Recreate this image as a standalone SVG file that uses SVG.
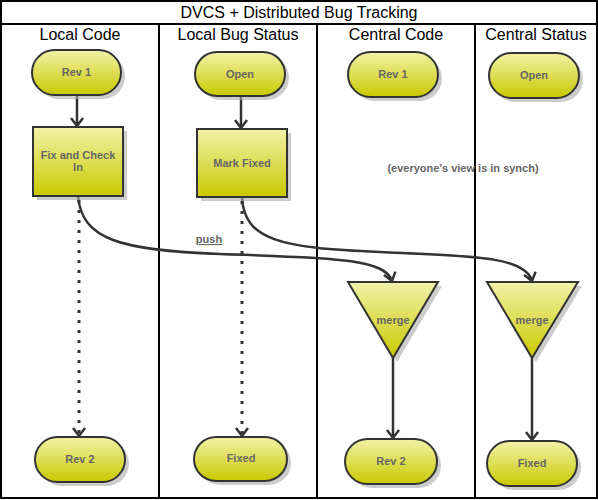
<svg xmlns="http://www.w3.org/2000/svg" width="598" height="500" viewBox="0 0 598 500">
<style>
.frame{fill:none;stroke:#000;stroke-width:2}
.div{stroke:#000;stroke-width:2}
.title{font-family:"Liberation Sans",Arial,sans-serif;font-size:16px;fill:#000;text-anchor:middle}
.node{fill:url(#g);stroke:#333;stroke-width:2}
.shadow{fill:#aaa;opacity:0.6}
.lbl{font-family:"Liberation Sans",Arial,sans-serif;font-size:11px;font-weight:bold;fill:#666;text-anchor:middle}
.conn{fill:none;stroke:#333;stroke-width:2.5}
.dot{fill:none;stroke:#333;stroke-width:3;stroke-dasharray:3 7}
</style>
<defs>
<linearGradient id="g" x1="0" y1="0" x2="0" y2="1">
<stop offset="0" stop-color="#f2f2a8"/>
<stop offset="1" stop-color="#c9c900"/>
</linearGradient>
<marker id="arr" markerUnits="userSpaceOnUse" markerWidth="16" markerHeight="16" viewBox="-10 -8 12 16" refX="0" refY="0" orient="auto">
<path d="M-8,-6 L0,0 L-8,6" fill="none" stroke="#333" stroke-width="2.5"/>
</marker>
</defs>
<rect x="0" y="0" width="598" height="500" fill="#fff"/>
<g id="frame">
<rect class="frame" x="1" y="1" width="596" height="497"/>
<line class="div" x1="1" y1="24" x2="597" y2="24"/>
<line class="div" x1="159" y1="24" x2="159" y2="498"/>
<line class="div" x1="317" y1="24" x2="317" y2="498"/>
<line class="div" x1="475" y1="24" x2="475" y2="498"/>
<text class="title" x="299" y="18">DVCS + Distributed Bug Tracking</text>
<text class="title" x="80" y="40">Local Code</text>
<text class="title" x="238" y="40">Local Bug Status</text>
<text class="title" x="396" y="40">Central Code</text>
<text class="title" x="536" y="40">Central Status</text>
</g>
<g id="connectors">
<line class="conn" x1="77" y1="95" x2="77" y2="126" marker-end="url(#arr)"/>
<line class="conn" x1="241" y1="97" x2="241" y2="128" marker-end="url(#arr)"/>
<line class="dot" x1="79" y1="200" x2="79" y2="436" marker-end="url(#arr)"/>
<line class="dot" x1="242" y1="201" x2="242" y2="436" marker-end="url(#arr)"/>
<path class="conn" d="M78,196 C82,240 120,250 220,254 C330,258 385,258 392,281" marker-end="url(#arr)"/>
<path class="conn" d="M242,197 C244,240 280,248 380,252 C470,256 525,256 532,281" marker-end="url(#arr)"/>
<line class="conn" x1="393" y1="358" x2="393" y2="438" marker-end="url(#arr)"/>
<line class="conn" x1="532" y1="358" x2="532" y2="440" marker-end="url(#arr)"/>
<text class="lbl" x="209" y="243" style="text-decoration:underline">push</text>
</g>
<g id="n-rev1-local">
<rect class="shadow" x="36" y="54" width="89" height="45" rx="22.5"/>
<rect class="node" x="32" y="50" width="89" height="45" rx="22.5"/>
<text class="lbl" x="76.5" y="76">Rev 1</text>
</g>
<g id="n-open-local">
<rect class="shadow" x="199" y="56" width="90" height="44" rx="22"/>
<rect class="node" x="195" y="52" width="90" height="44" rx="22"/>
<text class="lbl" x="240" y="78">Open</text>
</g>
<g id="n-rev1-central">
<rect class="shadow" x="352" y="56" width="90" height="45" rx="22.5"/>
<rect class="node" x="348" y="52" width="90" height="45" rx="22.5"/>
<text class="lbl" x="393" y="78">Rev 1</text>
</g>
<g id="n-open-central">
<rect class="shadow" x="493" y="57" width="90" height="45" rx="22.5"/>
<rect class="node" x="489" y="53" width="90" height="45" rx="22.5"/>
<text class="lbl" x="534" y="79">Open</text>
</g>
<g id="n-fix">
<rect class="shadow" x="37" y="131" width="90" height="69"/>
<rect class="node" x="33" y="127" width="90" height="69"/>
<text class="lbl" x="78" y="159">Fix and Check</text>
<text class="lbl" x="78" y="171">In</text>
</g>
<g id="n-markfixed">
<rect class="shadow" x="201" y="133" width="90" height="68"/>
<rect class="node" x="197" y="129" width="90" height="68"/>
<text class="lbl" x="242" y="167">Mark Fixed</text>
</g>
<g id="n-merge-code">
<polygon class="shadow" points="352,286 442,286 397,362"/>
<polygon class="node" points="348,282 438,282 393,358"/>
<text class="lbl" x="393" y="324">merge</text>
</g>
<g id="n-merge-status">
<polygon class="shadow" points="491,286 582,286 536,362"/>
<polygon class="node" points="487,282 578,282 532,358"/>
<text class="lbl" x="532" y="324">merge</text>
</g>
<g id="n-rev2-local">
<rect class="shadow" x="39" y="441" width="90" height="45" rx="22.5"/>
<rect class="node" x="35" y="437" width="90" height="45" rx="22.5"/>
<text class="lbl" x="80" y="463">Rev 2</text>
</g>
<g id="n-fixed-local">
<rect class="shadow" x="198" y="441" width="93" height="44" rx="22"/>
<rect class="node" x="194" y="437" width="93" height="44" rx="22"/>
<text class="lbl" x="241" y="462">Fixed</text>
</g>
<g id="n-rev2-central">
<rect class="shadow" x="349" y="443" width="92" height="45" rx="22.5"/>
<rect class="node" x="345" y="439" width="92" height="45" rx="22.5"/>
<text class="lbl" x="391" y="465">Rev 2</text>
</g>
<g id="n-fixed-central">
<rect class="shadow" x="491" y="445" width="90" height="45" rx="22.5"/>
<rect class="node" x="487" y="441" width="90" height="45" rx="22.5"/>
<text class="lbl" x="532" y="467">Fixed</text>
</g>
<text id="note" class="lbl" x="463" y="172">(everyone's view is in synch)</text>
</svg>
